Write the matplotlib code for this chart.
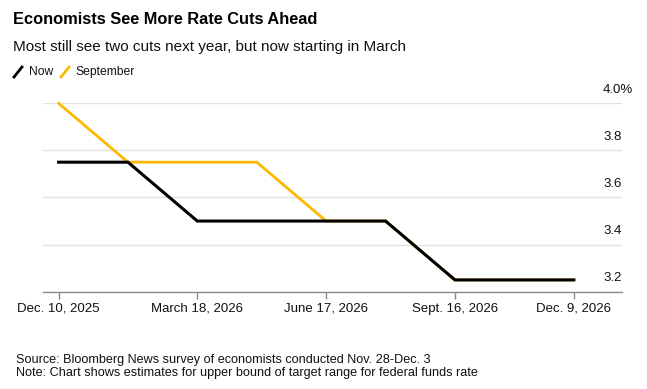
import matplotlib
matplotlib.use("Agg")
import matplotlib.pyplot as plt
import matplotlib.transforms as mtransforms
from matplotlib import font_manager
import pandas as pd

meeting_dates = ["2025-12-10", "2026-01-28", "2026-03-18", "2026-04-29", "2026-06-17",
                 "2026-07-29", "2026-09-16", "2026-10-28", "2026-12-09"]
now_values = [3.75, 3.75, 3.5, 3.5, 3.5, 3.5, 3.25, 3.25, 3.25]
september_values = [4.0, 3.75, 3.75, 3.75, 3.5, 3.5, 3.25, 3.25, 3.25]
tick_dates = ["2025-12-10", "2026-03-18", "2026-06-17", "2026-09-16", "2026-12-09"]
tick_labels = ["Dec. 10, 2025", "March 18, 2026", "June 17, 2026", "Sept. 16, 2026", "Dec. 9, 2026"]
y_ticks = [3.2, 3.4, 3.6, 3.8, 4.0]
y_labels = ["3.2", "3.4", "3.6", "3.8", "4.0%"]

plt.rcParams['font.family'] = ['Liberation Sans', 'DejaVu Sans']
names = {f.name for f in font_manager.fontManager.ttflist}
narrow_ok = 'Liberation Sans Narrow' in names
NARROW = ['Liberation Sans Narrow', 'DejaVu Sans'] if narrow_ok else ['Liberation Sans', 'DejaVu Sans']
scale = 1.0 if narrow_ok else 0.84

W, H = 647, 389
fig = plt.figure(figsize=(W / 100, H / 100), dpi=100)
left, right, top, bottom = 43, 622, 103.3, 291.7
ax = fig.add_axes([left / W, 1 - bottom / H, (right - left) / W, (bottom - top) / H])

x = pd.to_datetime(meeting_dates)
yellow = "#FCB900"
ax.plot(x, september_values, color=yellow, lw=2.0, solid_joinstyle="miter", clip_on=False, zorder=3)
ax.plot(x, now_values, color="black", lw=2.2, solid_joinstyle="miter", clip_on=False, zorder=4)

ax.set_xlim(pd.Timestamp("2025-11-29"), pd.Timestamp("2027-01-12"))
ax.set_ylim(3.2, 4.0)

for s in ["top", "right", "left"]:
    ax.spines[s].set_visible(False)
ax.spines["bottom"].set_color("#8a8a8a")
ax.spines["bottom"].set_linewidth(1.0)

ax.set_yticks(y_ticks)
ax.tick_params(axis="y", length=0, labelleft=False)
ax.grid(axis="y", color="#e1e1e1", lw=1.0)
ax.set_axisbelow(True)

ax.set_xticks(pd.to_datetime(tick_dates))
ax.set_xticklabels(tick_labels)
ax.tick_params(axis="x", length=5, width=1, color="#8a8a8a", labelsize=9.5, pad=3, labelcolor="#111111")

trans = mtransforms.blended_transform_factory(ax.transAxes, ax.transData)
offset = mtransforms.ScaledTranslation(0, 13.5 / 100, fig.dpi_scale_trans)
for v, lab in zip(y_ticks, y_labels):
    ax.text((603 - left) / (right - left), v, lab, transform=trans + offset, ha="left", va="center",
            fontsize=9.5, color="#111111", clip_on=False)

fig.text(13 / W, 1 - 20 / H, "Economists See More Rate Cuts Ahead", fontsize=14 * (1 if narrow_ok else 0.84),
         fontweight="bold", family=NARROW, ha="left", va="center", color="black")
fig.text(13 / W, 1 - 47 / H, "Most still see two cuts next year, but now starting in March",
         fontsize=13.4 if narrow_ok else 11.0, family=NARROW, ha="left", va="center", color="#111111")

# legend
ly = 1 - 72 / H
lfs = 10.3 if narrow_ok else 8.7
fig.lines.append(plt.Line2D([14 / W, 22 / W], [1 - 77 / H, 1 - 67 / H], color="black", lw=2, transform=fig.transFigure))
fig.text(29 / W, ly, "Now", fontsize=lfs, family=NARROW, ha="left", va="center", color="#111111")
fig.lines.append(plt.Line2D([61 / W, 69 / W], [1 - 77 / H, 1 - 67 / H], color=yellow, lw=2, transform=fig.transFigure))
fig.text(75 / W, ly, "September", fontsize=lfs, family=NARROW, ha="left", va="center", color="#111111")

fig.text(16 / W, 1 - 360 / H, "Source: Bloomberg News survey of economists conducted Nov. 28-Dec. 3",
         fontsize=9.1, ha="left", va="center", color="#111111")
fig.text(16 / W, 1 - 373 / H, "Note: Chart shows estimates for upper bound of target range for federal funds rate",
         fontsize=9.1, ha="left", va="center", color="#111111")

fig.savefig("out.png", dpi=100, facecolor="white")
